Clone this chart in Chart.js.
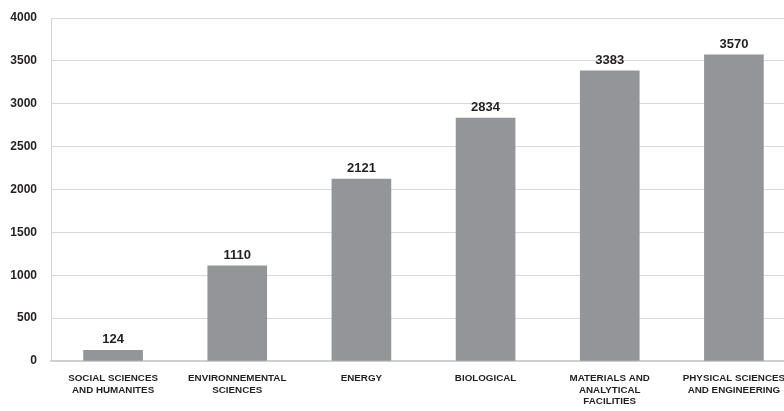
<!DOCTYPE html>
<html>
<head>
<meta charset="utf-8">
<script src="https://cdn.jsdelivr.net/npm/chart.js@4"></script>
<style>
  html, body { margin: 0; padding: 0; background: #fff; overflow: hidden; }
  #wrap { width: 800px; height: 411px; }
</style>
</head>
<body>
<div id="wrap"><canvas id="fieldChart"></canvas></div>
<script>
// categories (multi-line labels) and values
const categories = [
    ['SOCIAL SCIENCES', 'AND HUMANITES'],
    ['ENVIRONNEMENTAL', 'SCIENCES'],
    ['ENERGY'],
    ['BIOLOGICAL'],
    ['MATERIALS AND', 'ANALYTICAL', 'FACILITIES'],
    ['PHYSICAL SCIENCES', 'AND ENGINEERING']
];
const values = [124, 1110, 2121, 2834, 3383, 3570];
const yTicks = [0, 500, 1000, 1500, 2000, 2500, 3000, 3500, 4000];

const textColor = '#231f20';
const fontFamily = '"Liberation Sans", Arial, sans-serif';

// value labels above each bar
const valueLabels = {
    id: 'valueLabels',
    afterDatasetsDraw(chart) {
        const ctx = chart.ctx;
        const meta = chart.getDatasetMeta(0);
        ctx.save();
        ctx.font = 'bold 13px ' + fontFamily;
        ctx.fillStyle = textColor;
        ctx.textAlign = 'center';
        ctx.textBaseline = 'bottom';
        meta.data.forEach((bar, i) => {
            ctx.fillText(String(values[i]), bar.x, bar.y - 4);
        });
        ctx.restore();
    }
};

new Chart(document.getElementById('fieldChart'), {
    type: 'bar',
    data: {
        labels: categories,
        datasets: [{
            data: values,
            backgroundColor: '#939598',
            borderWidth: 0,
            barThickness: 59
        }]
    },
    options: {
        responsive: true,
        maintainAspectRatio: false,
        animation: false,
        layout: { padding: { top: 18, right: 4, bottom: 0, left: 0 } },
        scales: {
            x: {
                grid: { display: false, drawTicks: false },
                border: { display: true, color: '#cfcfcf', width: 2 },
                ticks: {
                    color: textColor,
                    font: { family: fontFamily, size: 9.8, weight: 'bold', lineHeight: 1.17 },
                    padding: 12,
                    maxRotation: 0,
                    autoSkip: false
                },
                afterFit(scale) { scale.height = 50; }
            },
            y: {
                min: 0,
                max: 4000,
                afterBuildTicks(scale) {
                    scale.ticks = yTicks.map(v => ({ value: v }));
                },
                grid: { color: '#d9d9d9', lineWidth: 1, drawTicks: false },
                border: { display: true, color: '#d4d4d4', width: 1 },
                ticks: {
                    color: textColor,
                    font: { family: fontFamily, size: 12, weight: 'bold' },
                    padding: 14,
                    callback: v => String(v)
                },
                afterFit(scale) {
                    scale.width = 51;
                    scale.paddingTop = 0;
                    scale.paddingBottom = 0;
                }
            }
        },
        plugins: {
            legend: { display: false },
            tooltip: { enabled: false }
        }
    },
    plugins: [valueLabels]
});
</script>
</body>
</html>
